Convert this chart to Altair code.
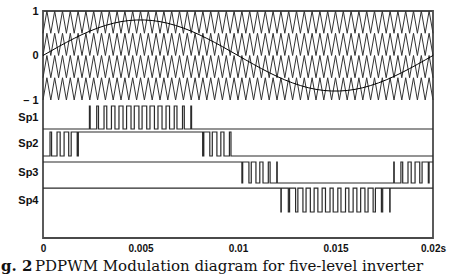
import altair as alt
import pandas as pd

# ---------------- data ----------------
# reference sine, time in ms
sine_t_ms = [0, 0.4, 0.8, 1.2, 1.6, 2.0, 2.4, 2.8, 3.2, 3.6, 4.0, 4.4, 4.8, 5.2, 5.6, 6.0,
             6.4, 6.8, 7.2, 7.6, 8.0, 8.4, 8.8, 9.2, 9.6, 10.0, 10.4, 10.8, 11.2, 11.6, 12.0,
             12.4, 12.8, 13.2, 13.6, 14.0, 14.4, 14.8, 15.2, 15.6, 16.0, 16.4, 16.8, 17.2,
             17.6, 18.0, 18.4, 18.8, 19.2, 19.6, 20.0]
sine_vals = [0, 0.100, 0.199, 0.294, 0.385, 0.470, 0.548, 0.616, 0.675, 0.724, 0.761, 0.786,
             0.798, 0.798, 0.786, 0.761, 0.724, 0.675, 0.616, 0.548, 0.470, 0.385, 0.294,
             0.199, 0.100, 0, -0.100, -0.199, -0.294, -0.385, -0.470, -0.548, -0.616, -0.675,
             -0.724, -0.761, -0.786, -0.798, -0.798, -0.786, -0.761, -0.724, -0.675, -0.616,
             -0.548, -0.470, -0.385, -0.294, -0.199, -0.100, 0]

# triangular carriers: vertex times (ms), alternating trough / peak
carrier_vertex_ms = [0, 0.2, 0.4, 0.6, 0.8, 1.0, 1.2, 1.4, 1.6, 1.8, 2.0, 2.2, 2.4, 2.6, 2.8,
                     3.0, 3.2, 3.4, 3.6, 3.8, 4.0, 4.2, 4.4, 4.6, 4.8, 5.0, 5.2, 5.4, 5.6, 5.8,
                     6.0, 6.2, 6.4, 6.6, 6.8, 7.0, 7.2, 7.4, 7.6, 7.8, 8.0, 8.2, 8.4, 8.6, 8.8,
                     9.0, 9.2, 9.4, 9.6, 9.8, 10.0, 10.2, 10.4, 10.6, 10.8, 11.0, 11.2, 11.4,
                     11.6, 11.8, 12.0, 12.2, 12.4, 12.6, 12.8, 13.0, 13.2, 13.4, 13.6, 13.8,
                     14.0, 14.2, 14.4, 14.6, 14.8, 15.0, 15.2, 15.4, 15.6, 15.8, 16.0, 16.2,
                     16.4, 16.6, 16.8, 17.0, 17.2, 17.4, 17.6, 17.8, 18.0, 18.2, 18.4, 18.6,
                     18.8, 19.0, 19.2, 19.4, 19.6, 19.8, 20.0]
carrier_bottoms = [-1.0, -0.5, 0.0, 0.5]
carrier_span = 0.5

# gate signals: initial state and switching instants (ms)
signal_names = ["Sp1", "Sp2", "Sp3", "Sp4"]
signal_start_state = [0, 0, 1, 1]
sp1_edges_ms = [2.381, 2.419, 2.754, 2.846, 3.13, 3.27, 3.51, 3.69, 3.896, 4.104, 4.286, 4.514,
                4.681, 4.919, 5.081, 5.319, 5.486, 5.714, 5.896, 6.104, 6.31, 6.49, 6.73, 6.87,
                7.154, 7.246, 7.581, 7.619]
sp2_edges_ms = [0.36, 0.44, 0.72, 0.88, 1.082, 1.318, 1.446, 1.754, 1.812, 8.188, 8.246, 8.554,
                8.682, 8.918, 9.12, 9.28, 9.56, 9.64]
sp3_edges_ms = [10.2, 10.24, 10.56, 10.68, 10.92, 11.118, 11.282, 11.554, 11.646, 11.988, 12.012,
                17.988, 18.012, 18.354, 18.446, 18.718, 18.882, 19.08, 19.32, 19.44, 19.76, 19.8]
sp4_edges_ms = [12.2, 12.219, 12.581, 12.646, 12.954, 13.07, 13.33, 13.49, 13.71, 13.904, 14.096,
                14.314, 14.486, 14.719, 14.881, 15.119, 15.281, 15.514, 15.686, 15.904, 16.096,
                16.29, 16.51, 16.67, 16.93, 17.046, 17.354, 17.419, 17.781, 17.8]
signal_edges = [sp1_edges_ms, sp2_edges_ms, sp3_edges_ms, sp4_edges_ms]

x_tick_values = [0, 0.005, 0.01, 0.015, 0.02]
y_tick_values = [1, 0, -1]
caption_bold = "g. 2"
caption_rest = "PDPWM Modulation diagram for five-level inverter"

# ---------------- layout (lanes of the gate signals, in y units) ----------------
lane_high = [-1.135, -1.719, -2.393, -2.978]
lane_low = [-1.652, -2.258, -2.865, -3.517]
T_END_MS = 20.0

# ---------------- tables ----------------
sine_df = pd.DataFrame({"t": [v / 1000 for v in sine_t_ms], "v": sine_vals})

rows = []
for ci, b in enumerate(carrier_bottoms):
    for k, tm in enumerate(carrier_vertex_ms):
        rows.append({"t": tm / 1000, "v": b + carrier_span * (k % 2), "g": f"c{ci}"})
carrier_df = pd.DataFrame(rows)

rows = []
for i, name in enumerate(signal_names):
    st = signal_start_state[i]
    pts = [(0.0, st)]
    for e in signal_edges[i]:
        st = 1 - st
        pts.append((e, st))
    pts.append((T_END_MS, st))
    for tm, s in pts:
        rows.append({"t": tm / 1000, "v": lane_low[i] + (lane_high[i] - lane_low[i]) * s, "g": name})
sig_df = pd.DataFrame(rows)

lane_centers = [(h + l) / 2 for h, l in zip(lane_high, lane_low)]

label_expr = (
    f"datum.value < {lane_centers[3] + 0.1} ? 'Sp4' : "
    f"datum.value < {lane_centers[2] + 0.1} ? 'Sp3' : "
    f"datum.value < {lane_centers[1] + 0.1} ? 'Sp2' : "
    f"datum.value < {lane_centers[0] + 0.1} ? 'Sp1' : "
    "datum.value < -0.5 ? '\u2013 1' : datum.label"
)

x_enc = alt.X("t:Q",
              scale=alt.Scale(domain=[0, 0.02], nice=False, zero=False),
              axis=alt.Axis(values=x_tick_values, title=None, grid=False, ticks=False,
                            domain=False, labelFont="Liberation Sans", labelFontWeight="bold",
                            labelFontSize=10, labelColor="#111", labelPadding=5,
                            labelFlush=False,
                            labelExpr="datum.value > 0.0199 ? '0.02s' : format(datum.value, '~g')"))
y_enc = alt.Y("v:Q",
              scale=alt.Scale(domain=[-4.101, 1], nice=False, zero=False),
              axis=alt.Axis(values=y_tick_values + lane_centers, title=None, grid=False,
                            ticks=False, domain=False, labelFont="Liberation Sans",
                            labelFontWeight="bold", labelFontSize=11, labelColor="#111",
                            labelPadding=5, labelExpr=label_expr))

carriers = alt.Chart(carrier_df).mark_line(color="#333333", strokeWidth=1.0).encode(
    x=x_enc, y=y_enc, detail="g:N")
sine = alt.Chart(sine_df).mark_line(color="#000000", strokeWidth=1.0).encode(x=x_enc, y=y_enc)
signals = alt.Chart(sig_df).mark_line(color="#2a2a2a", strokeWidth=1.2,
                                      interpolate="step-after").encode(
    x=x_enc, y=y_enc, detail="g:N")

cap_df = pd.DataFrame({"a": [0]})
cap1 = alt.Chart(cap_df).mark_text(text=caption_bold, font="DejaVu Serif", fontSize=15,
                                   fontWeight="bold", align="left", baseline="alphabetic",
                                   color="#111").encode(x=alt.value(-42), y=alt.value(260))
cap2 = alt.Chart(cap_df).mark_text(text=caption_rest, font="DejaVu Serif", fontSize=15,
                                   align="left", baseline="alphabetic",
                                   color="#111").encode(x=alt.value(-8), y=alt.value(260))

chart = alt.layer(carriers, sine, signals, cap1, cap2).properties(
    width=390, height=227,
    autosize=alt.AutoSizeParams(type="none"),
    padding={"left": 43, "top": 11, "right": 32, "bottom": 38},
    background="white",
).configure_view(stroke="#4a4a4a", strokeWidth=1.8)

chart.save("out.html", embed_options={"renderer": "svg", "actions": False})
